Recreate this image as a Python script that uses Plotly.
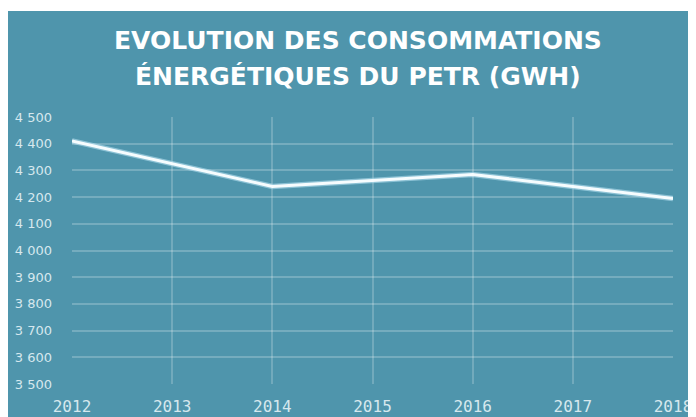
import plotly.graph_objects as go

years = [2012, 2013, 2014, 2015, 2016, 2017, 2018]
consumption = [4410, 4325, 4240, 4262, 4285, 4240, 4195]
title_lines = ["EVOLUTION DES CONSOMMATIONS", "ÉNERGÉTIQUES DU PETR (GWH)"]

teal = "#4f95ac"
tick_color = "#d6e8ee"

# the page body adds an 8px offset, so the figure is 8px smaller
W, H = 688, 409
L, R, T, B = 64, 23, 109, 33
pw, ph = W - L - R, H - T - B


def px_x(x):
    return (x - L) / pw


def px_y(y):
    return (H - B - y) / ph


fig = go.Figure()
fig.add_trace(go.Scatter(
    x=years, y=consumption, mode="lines",
    line=dict(color="rgba(190,230,245,0.55)", width=5.5),
    hoverinfo="skip", showlegend=False,
))
fig.add_trace(go.Scatter(
    x=years, y=consumption, mode="lines",
    line=dict(color="#f6fcfe", width=3),
    showlegend=False,
))

annotations = []
for line, ypx in zip(title_lines, [33, 68]):
    annotations.append(dict(
        text=line, xref="paper", yref="paper",
        x=px_x(350), y=px_y(ypx), xanchor="center", yanchor="middle",
        showarrow=False,
        font=dict(family="DejaVu Sans", size=25, color="white", weight="bold"),
    ))

fig.update_layout(
    width=W, height=H,
    margin=dict(l=L, r=R, t=T, b=B, autoexpand=False),
    paper_bgcolor=teal,
    plot_bgcolor="rgba(0,0,0,0)",
    separators=", ",
    annotations=annotations,
    shapes=[dict(
        type="rect", xref="paper", yref="paper", layer="below",
        x0=px_x(-5), x1=px_x(W + 5), y0=px_y(3), y1=px_y(-5),
        fillcolor="white", line=dict(width=0),
    )],
    xaxis=dict(
        range=[2012, 2018], tickvals=years, ticktext=[str(y) for y in years],
        showgrid=True, gridcolor="rgba(255,255,255,0.2)", gridwidth=1.5,
        zeroline=False, showline=False, ticks="", automargin=False,
        tickfont=dict(family="DejaVu Sans Mono", size=16, color=tick_color),
        ticklabelstandoff=11,
    ),
    yaxis=dict(
        range=[3500, 4500], dtick=100, tickformat=",d",
        showgrid=True, gridcolor="rgba(255,255,255,0.22)", gridwidth=1.5,
        zeroline=False, showline=False, ticks="", automargin=False,
        tickfont=dict(family="DejaVu Sans", size=13, color=tick_color),
        ticklabelstandoff=19,
    ),
)

fig.write_html("out.html")
